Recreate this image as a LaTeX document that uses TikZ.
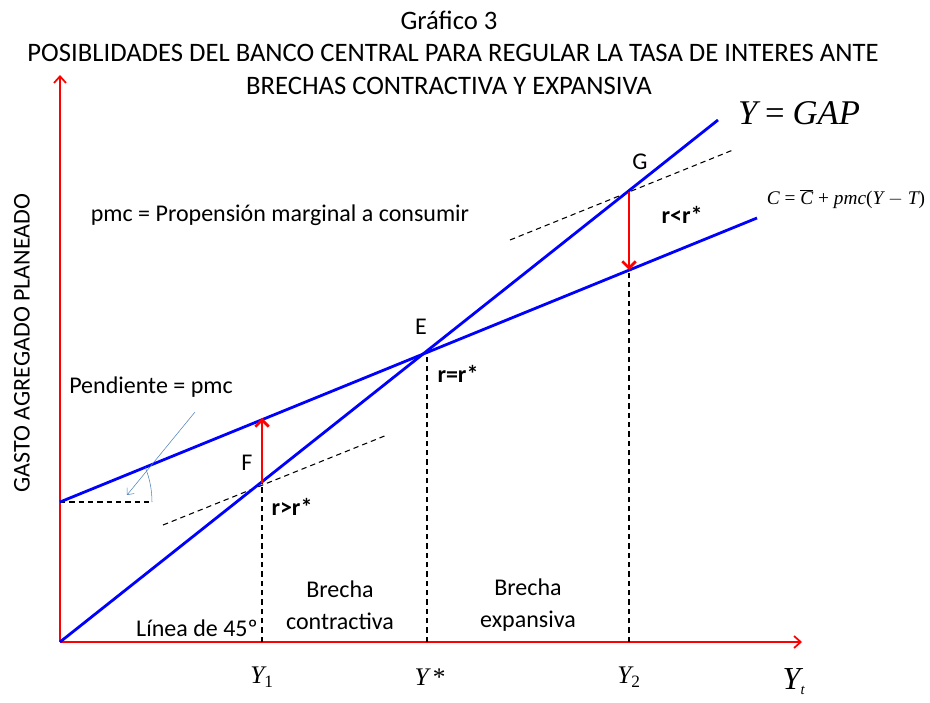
\documentclass[tikz,border=0pt]{standalone}
\usepackage{fontspec}
\setmainfont{Carlito}
\newfontfamily\tms{Liberation Serif}
\usepackage{tikz}
\usetikzlibrary{arrows,arrows.meta,positioning,calc}

\definecolor{slopeblue}{RGB}{79,129,189}
\newcommand{\ti}[1]{{\tms\itshape #1}}

\begin{document}
\begin{tikzpicture}[x=0.75pt,y=-0.75pt,
    axis/.style={red,line width=1.3pt,-{Straight Barb[length=5pt,width=9pt]}},
    curve/.style={blue,line width=2.1pt},
    guide/.style={line width=0.8pt,dash pattern=on 4pt off 3pt},
    rmove/.style={red,line width=2.1pt,-{Straight Barb[length=5pt,width=10pt]}},
    lab/.style={font=\fontsize{18}{21}\selectfont},
    rlab/.style={font=\fontsize{18}{21}\selectfont\bfseries},
    ttl/.style={font=\fontsize{20}{23}\selectfont},
    mlab/.style={font=\fontsize{19}{21}\selectfont\tms\itshape}]
\useasboundingbox (0,0) rectangle (930,702);

% Points
\coordinate (O) at (60,642);
\coordinate (Ytop) at (60,75);
\coordinate (Xend) at (802,642);
\coordinate (C0) at (60,502);
\coordinate (Cend) at (757,218);
\coordinate (Gend) at (718,120);
\coordinate (E) at (427,351);
\coordinate (F) at (262,483);
\coordinate (Fc) at (262,418);
\coordinate (G) at (629,192);
\coordinate (Gc) at (629,270);
\coordinate (Y1) at (262,642);
\coordinate (Ys) at (427,642);
\coordinate (Y2) at (629,642);

% Title
\node[ttl] (title) at (449,20) {Gráfico 3};
\node[ttl] (title2) at (453,53) {POSIBLIDADES DEL BANCO CENTRAL PARA REGULAR LA TASA DE INTERES ANTE};
\node[ttl] (title3) at (449,86) {BRECHAS CONTRACTIVA Y EXPANSIVA};

% Axes
\draw[axis] (O) -- (Ytop);
\draw[axis] (O) -- (Xend);
\node[lab,rotate=90] (ylab) at (22,343) {GASTO AGREGADO PLANEADO};

% Guides
\draw[guide] (C0) -- (152,502) coordinate (H);
\draw[guide] (163,525) coordinate (t1) -- (387,435) coordinate (t2);
\draw[guide] (510,240) coordinate (t3) -- (733,150) coordinate (t4);
\draw[guide] (Y1) -- (F);
\draw[guide] (Ys) -- (E);
\draw[guide] (Y2) -- (Gc);

% Lines
\draw[curve] (O) -- (Gend);
\draw[curve] (C0) -- (Cend);

% Moves
\draw[rmove] (F) -- (Fc);
\draw[rmove] (G) -- (Gc);

% Slope
\draw[slopeblue,thin] (H) arc[start angle=0,end angle=-22,radius=92];
\coordinate (p1) at (195,412);
\coordinate (p2) at (127,495);
\draw[slopeblue,thin,-{Straight Barb[length=4pt,width=7pt]}] (p1) -- (p2);

% Labels
\node[mlab,font=\fontsize{26}{28}\selectfont] (gap) at (799,113) {\ti{Y} {\tms=} \ti{GAP}};
\node[font=\fontsize{14.5}{16}\selectfont\tms] (cons) at (846,199) {\ti{C} = $\overline{\hbox{\ti{C}}}$ + \ti{pmc}(\ti{Y} $-$ \ti{T})};
\node[lab] (Glab) at (640,162) {G};
\node[lab] (Elab) at (421,327) {E};
\node[lab] (Flab) at (247,463) {F};
\node[rlab] (r1) at (682,215) {r<r*};
\node[rlab] (r2) at (458,374) {r=r*};
\node[rlab] (r3) at (292,507) {r>r*};
\node[lab] (pmc) at (280,215) {pmc = Propensión marginal a consumir};
\node[lab] (pend) at (151,387) {Pendiente = pmc};
\node[lab] (lin) at (197,628) {Línea de 45º};
\node[lab,align=center,font=\fontsize{18}{24}\selectfont] (bc) at (340,605) {Brecha\\contractiva};
\node[lab,align=center,font=\fontsize{18}{24}\selectfont] (be) at (528,605) {Brecha\\expansiva};

% Ticks
\foreach \p/\t in {262/1, 629/2}
    \node[mlab] at (\p,677) {Y$_{\hbox{\tms\upshape\fontsize{13}{14}\selectfont\t}}$};
\node[mlab] (ystar) at (430,677) {Y\,{\upshape *}};
\node[mlab,font=\fontsize{24}{26}\selectfont\tms\itshape] (yt) at (794,682) {Y$_{\hbox{\tms\itshape\fontsize{11}{12}\selectfont t}}$};
\end{tikzpicture}
\end{document}
